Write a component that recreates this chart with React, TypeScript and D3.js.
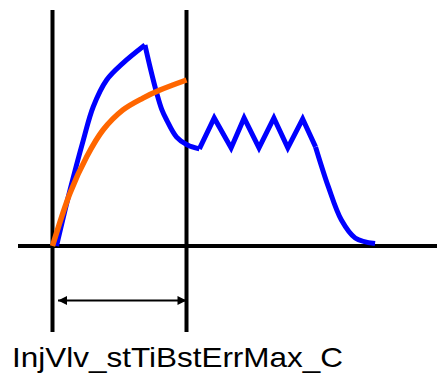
import React from "react";
import * as d3 from "d3";

// time units: 0 = left marker, 10 = right marker; value 0..1
const markerTimes = [0, 10];
const label = "InjVlv_stTiBstErrMax_C";

const blueRiseT = [0.3, 1.31, 2.3, 3.04, 4.04, 5.26, 6.9];
const blueRiseV = [0, 0.279, 0.527, 0.693, 0.826, 0.91, 1.0];
const blueDropT = [6.9, 7.3, 7.78, 8.15, 8.52, 9.26, 10.07, 10.96];
const blueDropV = [1.0, 0.885, 0.76, 0.68, 0.627, 0.542, 0.502, 0.483];
const blueZigT = [10.96, 12.07, 13.33, 14.3, 15.41, 16.52, 17.56, 18.67, 19.63];
const blueZigV = [0.483, 0.637, 0.488, 0.637, 0.488, 0.637, 0.488, 0.632, 0.493];
const blueFallT = [19.63, 20.59, 21.56, 22.59, 24.07];
const blueFallV = [0.493, 0.294, 0.129, 0.04, 0.012];

const orangeT = [0, 1.31, 2.55, 3.77, 5.26, 6.75, 8.02, 10];
const orangeV = [0, 0.264, 0.444, 0.577, 0.677, 0.736, 0.776, 0.826];

export default function App() {
  const W = 437, H = 376;
  const x = d3.scaleLinear().domain([0, 10]).range([52.5, 186.5]);
  const y = d3.scaleLinear().domain([0, 1]).range([246, 45]);
  const mk = (ts: number[], vs: number[], curve: d3.CurveFactory) =>
    d3
      .line<number>()
      .x((_, i) => x(ts[i]))
      .y((_, i) => y(vs[i]))
      .curve(curve)(ts) as string;
  const smooth = d3.curveCatmullRom.alpha(0.5);

  const blue = "#0000ff";
  const orange = "#ff6600";
  const arrowY = 300.5;
  const xl = x(markerTimes[0]);
  const xr = x(markerTimes[1]);

  return (
    <svg width={W} height={H} style={{ position: "absolute", left: 0, top: 0 }}>
      <defs>
        <marker id="ah" viewBox="0 0 10 10" refX="10" refY="5" markerWidth="5" markerHeight="4.5" orient="auto-start-reverse" markerUnits="strokeWidth">
          <path d="M0,0 L10,5 L0,10 Z" fill="#000" />
        </marker>
      </defs>
      <rect width={W} height={H} fill="#fff" />
      {/* horizontal axis */}
      <line x1={18} x2={437} y1={y(0)} y2={y(0)} stroke="#000" strokeWidth={4} />
      {/* markers */}
      {markerTimes.map((t, i) => (
        <line key={i} x1={x(t)} x2={x(t)} y1={10} y2={332} stroke="#000" strokeWidth={4} />
      ))}
      {/* blue signal */}
      <g fill="none" stroke={blue} strokeWidth={5} strokeLinejoin="miter" strokeLinecap="butt">
        <path d={mk(blueRiseT, blueRiseV, smooth)} />
        <path d={mk(blueDropT, blueDropV, smooth)} />
        <path d={mk(blueZigT, blueZigV, d3.curveLinear)} />
        <path d={mk(blueFallT, blueFallV, smooth)} />
      </g>
      {/* orange */}
      <path d={mk(orangeT, orangeV, smooth)} fill="none" stroke={orange} strokeWidth={5.5} />
      {/* arrow */}
      <line x1={xl + 5.5} x2={xr} y1={arrowY} y2={arrowY} stroke="#000" strokeWidth={2} markerStart="url(#ah)" markerEnd="url(#ah)" />
      <text
        x={12}
        y={367}
        fontFamily="Liberation Sans, Arial, sans-serif"
        fontSize={28}
        textLength={331}
        lengthAdjust="spacingAndGlyphs"
        fill="#000"
      >
        {label}
      </text>
    </svg>
  );
}
